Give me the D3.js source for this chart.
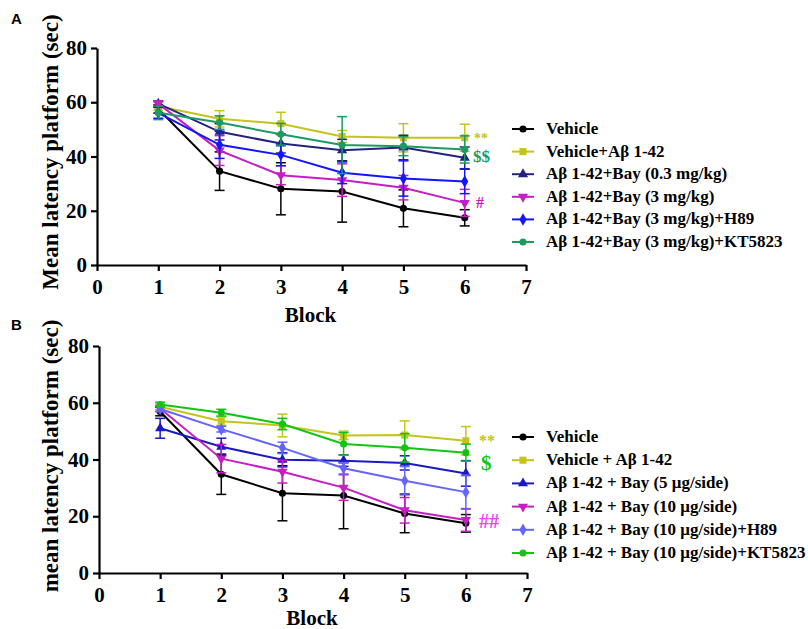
<!DOCTYPE html>
<html lang="en">
<head>
    <meta charset="UTF-8"/>
    <title>Mean latency platform</title>
    <script src="https://d3js.org/d3.v7.min.js"></script>
    <style>
        body { margin: 0; background: white; }
        text { font-family: "Liberation Serif", "Times New Roman", serif; font-weight: bold; }
    </style>
</head>
<body>
    <script>
        var w = 808;
        var h = 629;

        var blocks = [1, 2, 3, 4, 5, 6];
        var xTicks = [0, 1, 2, 3, 4, 5, 6, 7];
        var yTicks = [0, 20, 40, 60, 80];

        // panel A
        var aNames = ["Vehicle", "Vehicle+A\u03b2 1-42", "A\u03b2 1-42+Bay (0.3 mg/kg)", "A\u03b2 1-42+Bay (3 mg/kg)",
                      "A\u03b2 1-42+Bay (3 mg/kg)+H89", "A\u03b2 1-42+Bay (3 mg/kg)+KT5823"];
        var aVehicle = [57.5, 34.6, 28.1, 27.1, 20.9, 17.4];
        var aVehicleErr = [1.5, 7.1, 9.6, 11.3, 6.8, 3.0];
        var aAbeta = [58.5, 53.9, 52.1, 47.4, 46.9, 46.9];
        var aAbetaErr = [1.5, 3.0, 4.2, 2.2, 5.2, 5.0];
        var aBay03 = [59.5, 49.1, 44.8, 42.3, 43.3, 39.5];
        var aBay03Err = [1.0, 3.0, 3.5, 4.0, 4.5, 4.0];
        var aBay3 = [59.5, 42.2, 33.1, 31.3, 28.5, 22.9];
        var aBay3Err = [1.0, 5.5, 3.5, 6.0, 4.5, 5.0];
        var aH89 = [56.1, 44.3, 40.6, 34.0, 31.9, 30.8];
        var aH89Err = [2.0, 5.0, 4.0, 4.0, 6.5, 4.5];
        var aKT = [56.1, 52.5, 48.2, 44.2, 43.8, 42.6];
        var aKTErr = [2.5, 2.5, 4.0, 10.5, 3.5, 5.0];

        // panel B
        var bNames = ["Vehicle", "Vehicle + A\u03b2 1-42", "A\u03b2 1-42 + Bay (5 \u03bcg/side)", "A\u03b2 1-42 + Bay (10 \u03bcg/side)",
                      "A\u03b2 1-42 + Bay (10 \u03bcg/side)+H89", "A\u03b2 1-42 + Bay (10 \u03bcg/side)+KT5823"];
        var bVehicle = [56.9, 34.8, 28.1, 27.3, 21.0, 17.5];
        var bVehicleErr = [1.5, 7.1, 9.7, 11.7, 6.8, 3.1];
        var bAbeta = [58.6, 53.5, 52.0, 48.5, 48.6, 46.6];
        var bAbetaErr = [1.0, 1.5, 4.0, 1.5, 5.0, 5.0];
        var bBay5 = [51.0, 44.5, 39.9, 39.6, 38.8, 35.1];
        var bBay5Err = [3.5, 3.0, 2.5, 2.0, 2.5, 4.5];
        var bBay10 = [58.0, 40.3, 35.7, 30.1, 22.1, 18.7];
        var bBay10Err = [1.0, 5.0, 4.0, 4.5, 4.5, 4.0];
        var bH89 = [57.8, 50.7, 44.1, 36.9, 32.5, 28.5];
        var bH89Err = [1.0, 1.0, 2.0, 2.0, 5.0, 6.0];
        var bKT = [59.4, 56.5, 52.5, 45.5, 44.1, 42.4];
        var bKTErr = [0.8, 1.2, 2.0, 4.0, 5.0, 3.0];

        var aColors = ["#000000", "#c4c41c", "#23237e", "#c41ec4", "#1414ff", "#1c9a64"];
        var bColors = ["#000000", "#c4c41c", "#1a1ac4", "#c41ec4", "#6464ff", "#14c414"];
        var shapes = ["circle", "square", "up", "down", "diamond", "circle"];

        var svg = d3.select("body")
                    .append("svg")
                    .attr("width", w)
                    .attr("height", h);

        function marker(g, shape, x, y, color) {
            var type = d3.symbolCircle, size = 40, rot = 0;
            if (shape == "square") { type = d3.symbolSquare; size = 50; }
            if (shape == "up") { type = d3.symbolTriangle; size = 45; }
            if (shape == "down") { type = d3.symbolTriangle; size = 45; rot = 180; }
            if (shape == "diamond") { type = d3.symbolDiamond; size = 45; }
            g.append("path")
             .attr("d", d3.symbol().type(type).size(size)())
             .attr("transform", "translate(" + x + "," + y + ") rotate(" + rot + ")")
             .attr("fill", color);
        }

        function drawPanel(p) {
            var xScale = d3.scaleLinear().domain([0, 7]).range([p.x0, p.x1]);
            var yScale = d3.scaleLinear().domain([0, 80]).range([p.y0, p.y1]);

            var xAxis = d3.axisBottom(xScale).tickValues(xTicks).tickFormat(d3.format("d")).tickSize(6).tickSizeOuter(0);
            var yAxis = d3.axisLeft(yScale).tickValues(yTicks).tickSize(6).tickSizeOuter(0);

            var gx = svg.append("g")
               .attr("transform", "translate(0," + p.y0 + ")")
               .call(xAxis);
            var gy = svg.append("g")
               .attr("transform", "translate(" + p.x0 + ",0)")
               .call(yAxis);
            [gx, gy].forEach(function(g) {
                g.select(".domain").attr("stroke", "#000").attr("stroke-width", 2.2);
                g.selectAll(".tick line").attr("stroke", "#000").attr("stroke-width", 2.2);
                g.selectAll(".tick text")
                 .attr("fill", "#000")
                 .style("font-family", "Liberation Serif, serif")
                 .style("font-weight", "bold")
                 .style("font-size", "21px");
            });
            gx.selectAll(".tick text").attr("dy", "0.95em");
            gy.selectAll(".tick text").attr("dx", "-1px");

            svg.append("text")
               .attr("text-anchor", "middle")
               .attr("x", (p.x0 + p.x1) / 2 - 1)
               .attr("y", p.blockY)
               .attr("font-size", "21px")
               .text("Block");

            svg.append("text")
               .attr("text-anchor", "middle")
               .attr("transform", "rotate(-90)")
               .attr("x", -p.yTitleC)
               .attr("y", 58)
               .attr("font-size", "23px")
               .text(p.yTitle);

            svg.append("text")
               .attr("x", 11)
               .attr("y", p.labelY)
               .style("font-family", "Liberation Sans, Arial, sans-serif")
               .attr("font-size", "15px")
               .text(p.label);

            var line = d3.line()
                         .x(function(d, i) { return xScale(blocks[i]); })
                         .y(function(d) { return yScale(d); });

            p.series.forEach(function(s, k) {
                var g = svg.append("g");
                // error bars
                s.values.forEach(function(v, i) {
                    var x = xScale(blocks[i]);
                    var top = yScale(v + s.err[i]), bot = yScale(v - s.err[i]);
                    g.append("line").attr("x1", x).attr("x2", x).attr("y1", top).attr("y2", bot)
                     .attr("stroke", p.colors[k]).attr("stroke-width", 1.5);
                    g.append("line").attr("x1", x - 5).attr("x2", x + 5).attr("y1", top).attr("y2", top)
                     .attr("stroke", p.colors[k]).attr("stroke-width", 1.5);
                    g.append("line").attr("x1", x - 5).attr("x2", x + 5).attr("y1", bot).attr("y2", bot)
                     .attr("stroke", p.colors[k]).attr("stroke-width", 1.5);
                });
                g.append("path")
                 .datum(s.values)
                 .attr("d", line)
                 .attr("fill", "none")
                 .attr("stroke", p.colors[k])
                 .attr("stroke-width", 2);
                s.values.forEach(function(v, i) {
                    marker(g, shapes[k], xScale(blocks[i]), yScale(v), p.colors[k]);
                });

                // legend
                var ly = p.legY + k * p.legStep;
                svg.append("line").attr("x1", 512).attr("x2", 534).attr("y1", ly).attr("y2", ly)
                   .attr("stroke", p.colors[k]).attr("stroke-width", 2);
                marker(svg, shapes[k], 523, ly, p.colors[k]);
                svg.append("text")
                   .attr("x", 546)
                   .attr("y", ly + 5)
                   .attr("font-size", "17px")
                   .text(p.names[k]);
            });

            p.marks.forEach(function(m) {
                svg.append("text")
                   .attr("x", m.x).attr("y", m.y)
                   .attr("font-size", m.size + "px")
                   .attr("fill", m.color)
                   .text(m.t);
            });
        }

        drawPanel({
            x0: 97, x1: 526, y0: 265, y1: 48,
            yTitle: "Mean latency platform (sec)", yTitleC: 152,
            label: "A", labelY: 24, blockY: 322,
            names: aNames, colors: aColors,
            legY: 129, legStep: 22.6,
            series: [
                { values: aVehicle, err: aVehicleErr },
                { values: aAbeta, err: aAbetaErr },
                { values: aBay03, err: aBay03Err },
                { values: aBay3, err: aBay3Err },
                { values: aH89, err: aH89Err },
                { values: aKT, err: aKTErr }
            ],
            marks: [
                { t: "**", x: 474, y: 143, size: 14, color: aColors[1] },
                { t: "$$", x: 473, y: 162, size: 17, color: aColors[5] },
                { t: "#", x: 476, y: 208, size: 16, color: aColors[3] }
            ]
        });

        drawPanel({
            x0: 99, x1: 527, y0: 573, y1: 346,
            yTitle: "mean latency platform (sec)", yTitleC: 456,
            label: "B", labelY: 330, blockY: 625,
            names: bNames, colors: bColors,
            legY: 437, legStep: 23.2,
            series: [
                { values: bVehicle, err: bVehicleErr },
                { values: bAbeta, err: bAbetaErr },
                { values: bBay5, err: bBay5Err },
                { values: bBay10, err: bBay10Err },
                { values: bH89, err: bH89Err },
                { values: bKT, err: bKTErr }
            ],
            marks: [
                { t: "**", x: 479, y: 446, size: 16, color: bColors[1] },
                { t: "$", x: 481, y: 470, size: 21, color: bColors[5] },
                { t: "##", x: 479, y: 528, size: 20, color: "#ee44ee" }
            ]
        });
    </script>
</body>
</html>
